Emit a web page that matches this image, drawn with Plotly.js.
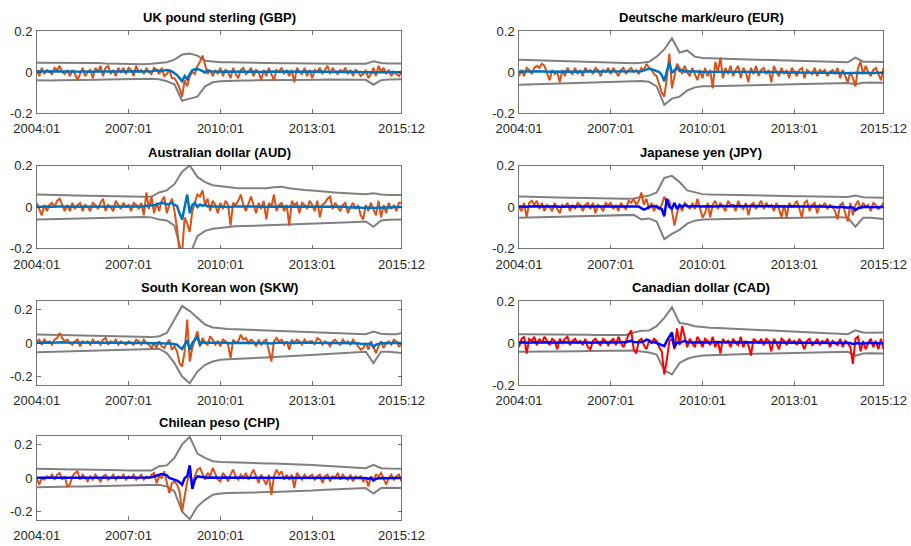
<!DOCTYPE html>
<html>
<head>
<meta charset="utf-8">
<script src="https://cdn.plot.ly/plotly-3.0.1.min.js"></script>
<style>html,body{margin:0;padding:0;background:#fff;}#chart{width:911px;height:546px;}</style>
</head>
<body>
<div id="chart"></div>
<script>
// ---------- categories / tick labels ----------
const startYear = 2004, endYear = 2015;
const tickLabels = ["2004:01", "2007:01", "2010:01", "2013:01", "2015:12"];
const panelTitles = ["UK pound sterling (GBP)", "Deutsche mark/euro (EUR)", "Australian dollar (AUD)", "Japanese yen (JPY)", "South Korean won (SKW)", "Canadian dollar (CAD)", "Chilean peso (CHP)"];
const yLimits = [0.2, 0.2, 0.2, 0.2, 0.25, 0.2, 0.25];
const yTicks = [-0.2, 0, 0.2];

// ---------- monthly series (orange / red) ----------
const gbpObs = [
0.01,-0.02,0.02,-0.01,0.01,0.00,-0.01,0.02,0.01,0.03,0.00,-0.01,
0.01,-0.02,0.01,-0.01,-0.04,-0.01,0.02,-0.02,0.00,0.01,-0.03,0.02,
0.00,0.03,-0.02,0.02,0.03,-0.01,0.01,-0.02,0.02,0.00,0.02,-0.01,
0.02,0.01,-0.02,0.03,0.00,0.01,-0.01,0.02,0.00,-0.01,0.02,0.01,
-0.01,0.02,-0.02,-0.01,0.01,-0.03,-0.03,-0.05,-0.08,-0.12,-0.04,-0.07,
-0.02,0.00,-0.01,0.03,0.05,0.08,0.03,-0.01,0.01,-0.02,0.01,-0.01,
0.02,-0.02,0.01,0.00,-0.03,0.02,-0.01,-0.03,0.01,0.02,-0.01,0.00,
0.02,-0.02,0.01,0.00,-0.04,0.01,-0.02,0.02,-0.01,-0.04,0.01,0.00,
0.02,-0.01,0.01,-0.02,0.01,-0.05,0.02,0.00,-0.01,0.02,-0.02,0.01,
-0.03,0.01,0.00,0.02,-0.01,0.01,0.03,-0.01,0.02,0.00,-0.01,0.01,
0.00,0.02,-0.01,0.01,-0.02,0.01,0.00,-0.02,-0.01,0.01,-0.03,-0.01,
0.02,-0.02,0.03,0.00,0.02,-0.01,0.01,-0.02,0.00,-0.01,-0.02,0.00];
const eurObs = [
-0.02,0.01,-0.02,0.02,0.01,-0.01,0.02,0.03,0.02,0.04,0.03,-0.01,
-0.04,0.01,-0.01,0.00,-0.05,0.01,-0.02,0.02,0.00,-0.01,0.02,-0.01,
0.01,-0.02,0.02,0.00,0.01,-0.01,0.02,0.01,-0.02,0.01,0.00,0.02,
-0.01,0.02,0.00,-0.02,0.01,0.02,-0.01,0.01,0.02,0.00,0.01,-0.01,
0.02,0.01,0.04,0.02,0.01,-0.01,-0.02,-0.06,-0.10,-0.12,-0.03,0.09,
-0.08,-0.02,0.04,0.02,-0.01,0.03,0.00,-0.02,0.02,-0.01,-0.04,0.01,
-0.03,0.02,-0.02,0.01,-0.08,0.05,0.00,0.07,-0.03,0.02,-0.01,0.03,
-0.02,0.01,0.03,-0.03,0.02,0.00,-0.05,0.02,-0.01,0.03,-0.02,0.01,
0.02,-0.01,0.01,-0.05,0.03,0.00,-0.02,0.02,-0.01,0.01,-0.03,0.02,
0.00,-0.02,0.01,0.02,-0.03,0.01,0.00,-0.01,0.02,-0.02,0.01,0.00,
0.01,-0.02,0.00,0.01,-0.01,0.02,-0.03,0.01,-0.02,-0.05,0.00,-0.03,
-0.07,0.02,0.05,-0.01,0.03,0.00,-0.02,0.01,0.02,-0.01,-0.04,0.02];
const audObs = [
0.02,-0.01,-0.04,0.01,-0.02,0.01,0.02,0.00,0.03,0.04,0.01,-0.02,
0.01,-0.02,0.02,-0.01,0.01,0.02,-0.02,0.01,0.00,-0.02,0.02,0.01,
-0.01,0.02,0.04,-0.02,0.01,0.00,-0.02,0.03,0.01,-0.01,0.02,0.00,
0.01,-0.02,0.02,0.01,-0.01,0.02,-0.04,0.07,-0.01,0.05,-0.03,0.02,
-0.02,0.03,0.05,-0.03,0.01,0.04,-0.02,-0.10,-0.22,-0.22,-0.05,-0.08,
-0.12,-0.02,0.02,0.06,0.05,0.08,0.01,0.04,-0.02,0.03,0.01,-0.03,
0.02,-0.01,0.03,0.01,-0.09,0.02,0.01,0.03,0.06,0.01,-0.02,0.02,
0.05,0.01,-0.03,0.02,-0.01,0.03,-0.06,0.02,0.00,0.06,-0.02,0.01,
0.02,-0.02,0.01,-0.09,0.03,0.01,0.02,-0.03,0.02,0.01,-0.01,0.03,
0.01,-0.02,0.03,-0.05,0.01,0.02,0.04,0.05,-0.01,0.02,0.00,-0.02,
0.01,0.02,-0.03,0.00,0.02,-0.01,0.01,-0.04,-0.06,0.01,-0.02,0.02,
-0.01,-0.04,0.03,-0.05,0.01,-0.03,0.02,-0.01,0.01,-0.02,0.02,0.02];
const jpyObs = [
0.00,-0.02,0.02,-0.05,0.02,0.03,0.01,0.03,-0.01,0.02,-0.02,0.01,
0.00,-0.02,0.02,-0.01,-0.03,0.01,0.00,0.02,-0.02,0.01,-0.01,0.02,
0.01,-0.02,0.01,0.02,-0.01,0.02,-0.03,0.01,0.00,-0.02,0.02,0.01,
0.02,-0.01,0.01,-0.02,0.02,0.00,-0.01,0.03,0.02,0.04,0.01,0.03,
0.07,0.01,0.04,-0.01,0.02,-0.02,0.01,-0.01,0.01,0.05,0.02,0.03,
-0.02,-0.09,-0.03,0.01,-0.02,0.02,0.01,-0.01,0.02,-0.01,0.04,0.00,
-0.05,-0.03,0.02,-0.05,0.01,0.03,-0.01,0.02,0.00,-0.02,0.03,0.01,
0.01,-0.02,0.03,0.00,-0.01,0.02,-0.04,0.01,0.02,-0.01,0.01,0.03,
-0.01,0.02,0.00,0.01,-0.02,0.02,-0.01,-0.05,0.01,-0.05,0.02,0.00,
0.01,0.03,-0.01,-0.05,0.02,0.03,-0.02,0.01,0.02,-0.03,0.01,0.00,
0.02,-0.01,0.01,0.00,-0.02,-0.06,0.01,0.02,-0.03,-0.07,0.02,-0.04,
0.01,0.03,-0.01,0.02,0.00,0.01,-0.02,0.02,0.01,-0.01,0.00,0.02];
const skwObs = [
0.01,0.02,-0.01,0.02,0.00,0.01,-0.01,0.02,0.03,0.06,0.03,0.01,
0.02,0.00,-0.01,0.01,0.02,-0.02,0.01,0.00,0.01,-0.01,0.02,0.00,
0.01,-0.01,0.02,0.03,-0.01,0.01,0.00,0.02,-0.01,0.01,0.00,-0.01,
0.01,0.00,-0.01,0.02,0.01,-0.01,0.02,0.00,-0.01,-0.03,0.00,-0.03,
0.01,-0.02,-0.03,0.00,0.02,-0.04,-0.02,-0.05,-0.12,-0.14,-0.05,0.14,
-0.11,-0.03,0.02,0.07,-0.02,0.03,0.00,-0.01,0.04,0.02,-0.01,0.01,
-0.02,0.02,0.01,-0.01,-0.09,0.02,0.00,0.01,0.05,0.02,0.03,0.00,
0.02,0.01,-0.02,0.02,-0.01,0.01,0.02,-0.05,-0.11,0.01,0.03,0.01,
0.02,-0.01,0.01,-0.04,0.02,0.00,0.02,0.01,-0.01,0.02,0.00,0.01,
0.01,-0.01,0.03,0.02,-0.01,0.01,0.00,-0.02,0.01,0.02,0.00,-0.01,
0.02,0.00,0.01,-0.01,0.02,0.00,-0.02,-0.04,-0.03,0.00,-0.04,0.01,
-0.02,-0.06,-0.02,0.01,-0.03,0.00,0.01,-0.01,0.02,0.01,-0.02,-0.01];
const cadObs = [
-0.02,0.02,0.03,-0.05,0.02,0.01,0.03,-0.01,0.02,0.00,0.03,0.01,
-0.01,0.02,0.01,-0.03,0.02,0.00,0.02,0.03,-0.01,0.01,0.02,0.00,
0.01,-0.01,0.02,-0.02,-0.03,0.01,0.02,0.00,-0.01,0.02,0.01,-0.01,
0.01,0.02,-0.01,0.03,0.00,-0.02,0.01,0.04,0.06,-0.03,-0.05,0.01,
0.02,-0.01,-0.03,0.01,0.00,0.02,0.01,-0.02,-0.04,-0.15,-0.08,0.01,
0.02,-0.03,0.07,-0.01,0.08,0.03,-0.02,0.02,0.00,-0.02,0.03,0.01,
-0.02,0.02,0.01,-0.01,0.03,-0.02,0.01,-0.05,0.02,0.00,0.01,-0.02,
0.02,0.00,-0.01,0.03,-0.02,0.01,-0.01,-0.06,0.02,0.01,0.00,0.02,
-0.01,0.02,0.01,-0.04,0.02,0.00,-0.03,0.02,0.01,-0.01,0.02,0.00,
0.01,-0.01,0.02,0.00,-0.03,0.01,0.02,-0.01,0.00,0.02,-0.01,0.01,
0.00,0.02,-0.02,0.01,0.00,-0.01,0.02,-0.02,0.01,0.00,-0.02,-0.10,
0.02,0.03,-0.04,0.01,-0.03,0.00,0.02,-0.02,0.01,-0.03,0.02,-0.03];
const chpObs = [
0.00,-0.04,0.00,-0.01,0.01,0.00,0.02,-0.01,0.02,0.03,-0.01,0.01,
-0.05,-0.04,0.01,0.03,0.04,-0.01,0.02,0.00,-0.02,0.01,-0.01,0.02,
0.00,-0.02,0.01,0.02,-0.01,0.00,0.02,-0.01,0.01,0.00,0.02,-0.01,
0.01,0.00,0.02,-0.01,0.00,0.02,-0.01,0.01,0.00,0.02,0.03,-0.03,
0.01,0.00,0.04,-0.02,-0.09,-0.03,-0.02,-0.04,-0.08,-0.20,-0.12,-0.02,
0.02,-0.03,0.01,0.05,0.06,0.02,-0.01,0.03,0.01,0.06,0.02,-0.01,
-0.02,0.03,0.01,-0.02,0.02,0.05,0.01,-0.01,0.02,0.00,0.03,-0.01,
0.02,0.05,0.01,-0.03,0.02,-0.01,-0.04,0.02,-0.10,0.01,0.05,0.02,
0.04,-0.01,0.02,-0.01,0.02,-0.06,0.03,0.01,-0.01,0.02,0.00,0.01,
0.02,-0.01,0.01,0.02,-0.03,0.01,0.02,-0.02,0.01,0.00,0.03,-0.01,
0.02,0.00,-0.01,0.02,-0.02,0.01,0.00,0.01,-0.02,0.00,-0.05,0.01,
-0.01,0.02,0.01,0.03,-0.01,-0.04,0.00,0.02,-0.01,0.01,0.02,-0.02];

// ---------- monthly estimated series (blue) ----------
const gbpEst = [
.004,.003,.004,.002,.003,.004,.002,.003,.004,.005,.003,.002,
.003,.002,.003,.002,.000,.001,.003,.002,.002,.003,.001,.003,
.002,.004,.002,.003,.004,.002,.003,.002,.003,.002,.003,.002,
.003,.002,.002,.004,.003,.003,.002,.004,.005,.004,.006,.008,
.006,.004,.008,.010,.007,.003,-.006,-.015,-.030,-.045,-.020,-.035,
-.010,.008,.013,.015,.010,.004,-.002,.008,.003,.002,.001,.002,
.002,.001,.002,.001,.002,.000,.001,.002,.001,.002,.001,.001,
.002,.001,.001,.002,.000,.001,.002,.001,.001,.002,.001,.000,
.001,.002,.001,.000,.001,.001,.002,.001,.000,.001,.002,.001,
.001,.000,.001,.002,.001,.000,.001,.001,.000,.001,.002,.001,
.000,.001,.001,.000,.001,.000,.001,.000,-.001,.000,-.002,-.001,
-.003,-.002,.000,.001,.000,-.001,.000,.001,.000,-.001,.000,.000];
const eurEst = [
.002,.001,.002,.003,.002,.001,.003,.004,.003,.004,.003,.002,
.001,.002,.001,.002,.000,.001,.002,.001,.002,.001,.002,.001,
.002,.001,.002,.002,.001,.002,.003,.002,.001,.002,.002,.003,
.002,.003,.002,.001,.002,.003,.002,.003,.004,.003,.004,.003,
.004,.008,.012,.016,.014,.010,.006,.000,-.015,-.045,.005,.045,
-.005,.010,.022,.005,.010,.002,.004,.002,.003,.002,.002,.001,
.001,.002,.001,.000,.001,.002,.001,.001,.000,.001,.001,.000,
.001,.000,.001,.001,.000,.001,.000,.000,.001,.000,.000,-.001,
.000,-.001,.000,-.001,.000,-.001,-.001,.000,-.001,-.002,-.001,-.001,
-.002,-.001,-.002,-.002,-.003,-.002,-.003,-.002,-.003,-.003,-.004,-.003,
-.003,-.004,-.004,-.003,-.004,-.005,-.004,-.005,-.005,-.006,-.005,-.006,
-.006,-.004,-.005,-.004,-.005,-.004,-.005,-.004,-.004,-.005,-.004,-.004];
const audEst = [
.001,.000,.001,.002,.001,.001,.002,.001,.002,.003,.002,.001,
.001,.002,.001,.001,.002,.001,.001,.000,.001,.001,.002,.001,
.001,.002,.003,.001,.002,.001,.001,.002,.001,.001,.002,.001,
.002,.001,.002,.001,.002,.003,.002,.006,.005,.010,.008,.012,
.015,.020,.018,.012,.015,.020,.010,.005,-.030,-.060,.000,.060,
-.030,.010,.020,.000,.012,.005,.010,.003,.005,.002,.003,.002,
.002,.001,.002,.001,.000,.002,.001,.002,.003,.002,.001,.002,
.003,.002,.001,.002,.001,.002,.000,.002,.001,.003,.001,.002,
.002,.001,.002,.000,.002,.001,.002,.001,.002,.001,.001,.002,
.001,.000,.002,.000,.001,.002,.002,.003,.001,.002,.001,.000,
.000,.001,-.002,-.001,.000,-.002,-.001,-.003,-.005,-.003,-.004,-.002,
-.003,-.005,-.002,-.004,-.002,-.003,-.001,-.002,.000,-.001,.000,.000];
const jpyEst = [
.003,.002,.004,.001,.003,.004,.003,.004,.002,.003,.002,.003,
.003,.002,.003,.002,.001,.002,.003,.003,.002,.003,.002,.003,
.003,.002,.003,.003,.002,.003,.001,.002,.002,.001,.003,.002,
.003,.002,.003,.002,.003,.002,.002,.003,.003,.004,.003,.002,
-.005,-.013,-.008,.000,.003,.005,.000,-.005,-.010,-.045,.040,.000,
-.008,.020,-.010,.010,.000,.010,.003,.002,.004,.003,.005,.003,
.004,.003,.005,.004,.003,.005,.004,.005,.004,.003,.005,.004,
.005,.004,.003,.005,.004,.005,.003,.004,.005,.004,.003,.004,
.004,.005,.004,.003,.004,.003,.004,.003,.004,.003,.004,.003,
.003,.004,.003,.002,.003,.004,.003,.002,.003,.002,.003,.002,
.002,.001,.002,.001,.000,-.002,.001,.000,-.002,-.004,.000,-.003,
-.015,-.006,-.002,.000,.001,.000,-.001,.001,.000,-.001,.000,.000];
const skwEst = [
.002,.003,.001,.002,.002,.003,.002,.003,.004,.006,.004,.003,
.003,.002,.001,.002,.003,.001,.002,.002,.002,.001,.002,.002,
.002,.001,.002,.003,.001,.002,.002,.003,.001,.002,.002,.001,
.002,.002,.001,.002,.002,.001,.002,.001,.000,-.002,.000,-.002,
.000,-.002,-.004,-.003,-.002,-.005,-.006,-.010,-.025,-.035,-.010,.016,
-.040,.000,.020,.035,-.010,.005,.002,.003,.004,.002,.001,.002,
.001,.002,.001,.000,-.002,.001,.001,.002,.003,.002,.002,.001,
.002,.001,.000,.001,.000,.001,.001,-.001,-.003,.000,.001,.001,
.002,.001,.001,.000,.001,.001,.002,.001,.001,.002,.001,.001,
.001,.000,.002,.002,.001,.001,.000,-.001,.000,.001,.000,.000,
.001,.000,.001,.000,.001,.000,-.002,-.004,-.005,-.003,-.006,-.002,
-.025,-.010,-.004,-.001,-.002,.000,.001,.000,.001,.001,.000,.000];
const cadEst = [
.002,.003,.003,.001,.003,.002,.003,.002,.003,.002,.003,.002,
.002,.003,.002,.001,.003,.002,.003,.003,.002,.002,.003,.002,
.002,.002,.003,.002,.001,.002,.003,.002,.002,.003,.002,.002,
.002,.003,.002,.003,.002,.002,.003,.008,.010,.005,.003,.004,
.005,.008,.016,.012,.003,.005,.000,-.005,-.010,-.015,.010,.030,
.050,-.020,.003,.000,.005,.010,.004,.003,.003,.002,.004,.003,
.003,.004,.003,.002,.004,.003,.003,.002,.003,.003,.002,.003,
.003,.002,.003,.003,.002,.003,.002,.001,.003,.002,.003,.002,
.002,.003,.002,.001,.002,.002,.001,.002,.002,.001,.002,.001,
.001,.001,.002,.001,.000,.001,.001,.000,.001,.001,.000,.001,
.000,.001,.000,.001,.000,.000,.001,.000,.000,.001,.000,-.005,
-.002,.000,-.002,.000,-.001,.000,.001,-.001,.000,-.001,.000,-.001];
const chpEst = [
.001,.000,.001,.001,.002,.001,.002,.001,.002,.002,.001,.001,
.000,-.001,.001,.002,.002,.001,.001,.001,.000,.001,.001,.001,
.001,.000,.001,.001,.001,.001,.002,.001,.001,.001,.002,.001,
.001,.001,.002,.001,.001,.002,.001,.002,.003,.005,.010,.015,
.018,.024,.020,.016,.000,-.005,-.008,-.015,-.025,-.040,.000,.010,
.075,-.065,-.010,.010,.008,.005,.003,.002,.003,.002,.003,.002,
.002,.003,.002,.001,.002,.003,.002,.001,.002,.002,.003,.002,
.002,.003,.002,.001,.002,.001,.000,.001,.000,.002,.003,.002,
.003,.002,.002,.001,.002,.000,.002,.001,.001,.002,.001,.001,
.001,.001,.001,.002,.000,.001,.002,.001,.001,.001,.002,.001,
.001,.001,.000,.001,.000,.001,.000,.001,.000,.000,-.004,.000,
-.015,-.004,-.001,.001,.000,-.002,.000,.001,.000,.000,.001,.000];

// ---------- quarterly confidence bands (upper / lower) ----------
const gbpUp = [.045,.045,.046,.045,.044,.045,.044,.043,.044,.042,.041,.040,.040,.039,.038,.040,.045,.048,.060,.085,.090,.080,.055,.050,.048,.047,.046,.046,.045,.045,.044,.044,.043,.043,.042,.042,.041,.041,.040,.040,.040,.039,.039,.040,.052,.044,.042,.042,.042];
const gbpLo = [-.040,-.042,-.041,-.040,-.040,-.041,-.040,-.039,-.038,-.037,-.036,-.036,-.035,-.034,-.033,-.033,-.035,-.045,-.060,-.140,-.130,-.120,-.070,-.050,-.045,-.043,-.042,-.042,-.041,-.041,-.040,-.040,-.040,-.039,-.039,-.038,-.038,-.038,-.037,-.037,-.037,-.036,-.036,-.038,-.062,-.040,-.036,-.035,-.035];
const eurUp = [.060,.059,.058,.056,.055,.053,.052,.050,.049,.048,.047,.046,.045,.044,.044,.043,.045,.050,.075,.110,.165,.095,.105,.075,.068,.066,.065,.064,.063,.062,.061,.060,.060,.059,.058,.057,.056,.055,.054,.053,.052,.051,.050,.048,.070,.050,.050,.049,.049];
const eurLo = [-.062,-.061,-.060,-.058,-.057,-.055,-.054,-.052,-.051,-.050,-.049,-.048,-.047,-.046,-.045,-.044,-.044,-.048,-.070,-.160,-.130,-.120,-.090,-.075,-.070,-.069,-.068,-.067,-.066,-.065,-.064,-.063,-.063,-.062,-.061,-.060,-.060,-.059,-.058,-.057,-.056,-.055,-.054,-.054,-.060,-.052,-.051,-.050,-.052];
const audUp = [.060,.060,.059,.058,.057,.056,.055,.054,.053,.052,.051,.050,.050,.049,.049,.050,.070,.080,.110,.170,.200,.145,.120,.105,.100,.095,.092,.090,.090,.092,.090,.095,.097,.090,.085,.082,.080,.076,.072,.070,.068,.066,.064,.062,.066,.060,.058,.058,.058];
const audLo = [-.060,-.059,-.058,-.057,-.056,-.055,-.054,-.053,-.052,-.051,-.050,-.050,-.049,-.048,-.048,-.050,-.060,-.065,-.090,-.230,-.230,-.140,-.115,-.105,-.100,-.095,-.093,-.092,-.090,-.089,-.088,-.087,-.086,-.085,-.084,-.083,-.081,-.080,-.078,-.076,-.075,-.073,-.071,-.070,-.095,-.065,-.062,-.060,-.060];
const jpyUp = [.050,.050,.049,.048,.047,.046,.045,.044,.043,.042,.041,.040,.040,.040,.040,.041,.048,.055,.070,.140,.150,.120,.080,.070,.062,.060,.059,.058,.057,.056,.055,.055,.054,.054,.053,.053,.052,.052,.051,.051,.050,.050,.049,.048,.055,.047,.046,.045,.045];
const jpyLo = [-.052,-.051,-.050,-.049,-.048,-.047,-.046,-.045,-.044,-.043,-.042,-.041,-.040,-.039,-.038,-.038,-.060,-.055,-.070,-.155,-.130,-.110,-.080,-.066,-.060,-.059,-.058,-.057,-.056,-.056,-.055,-.055,-.054,-.054,-.053,-.053,-.052,-.052,-.051,-.051,-.050,-.050,-.050,-.052,-.095,-.052,-.052,-.055,-.058];
const skwUp = [.050,.049,.048,.047,.046,.045,.044,.043,.042,.041,.040,.039,.038,.037,.036,.035,.040,.060,.140,.220,.190,.150,.110,.092,.086,.084,.082,.080,.079,.078,.077,.075,.073,.072,.070,.068,.066,.064,.062,.060,.058,.055,.053,.052,.068,.055,.052,.052,.060];
const skwLo = [-.055,-.054,-.053,-.052,-.051,-.050,-.049,-.048,-.047,-.046,-.045,-.044,-.042,-.040,-.037,-.035,-.035,-.060,-.120,-.200,-.240,-.170,-.130,-.110,-.100,-.097,-.094,-.092,-.090,-.088,-.086,-.084,-.082,-.080,-.077,-.074,-.071,-.068,-.065,-.062,-.060,-.058,-.055,-.052,-.120,-.052,-.052,-.055,-.060];
const cadUp = [.042,.042,.041,.041,.040,.040,.040,.040,.039,.039,.038,.038,.037,.036,.038,.050,.058,.060,.080,.120,.170,.095,.090,.080,.075,.073,.072,.070,.069,.068,.066,.064,.062,.060,.058,.056,.054,.052,.050,.048,.046,.045,.044,.042,.060,.050,.049,.048,.050];
const cadLo = [-.042,-.042,-.041,-.041,-.040,-.040,-.040,-.039,-.039,-.038,-.038,-.037,-.036,-.035,-.035,-.036,-.040,-.045,-.055,-.130,-.150,-.095,-.075,-.065,-.060,-.058,-.057,-.055,-.054,-.053,-.052,-.051,-.050,-.049,-.048,-.047,-.046,-.045,-.044,-.043,-.042,-.041,-.041,-.042,-.060,-.050,-.049,-.048,-.050];
const chpUp = [.055,.055,.054,.053,.052,.051,.050,.050,.049,.048,.047,.046,.045,.045,.044,.045,.070,.075,.120,.200,.245,.145,.120,.100,.095,.093,.091,.090,.089,.088,.087,.086,.085,.084,.082,.080,.077,.074,.071,.068,.065,.062,.060,.058,.078,.058,.056,.055,.055];
const chpLo = [-.055,-.055,-.054,-.053,-.052,-.051,-.050,-.049,-.048,-.047,-.046,-.045,-.045,-.044,-.044,-.045,-.040,-.050,-.080,-.200,-.245,-.170,-.130,-.100,-.092,-.090,-.088,-.087,-.086,-.085,-.084,-.083,-.082,-.081,-.080,-.078,-.075,-.072,-.070,-.068,-.066,-.064,-.062,-.060,-.092,-.060,-.058,-.058,-.060];

// ---------- build ----------
const months = [];
for (let y = startYear; y <= endYear; y++) for (let m = 1; m <= 12; m++) months.push(y + ":" + String(m).padStart(2, "0"));
const xIdx = months.map((_, i) => i + 1);
const bandIdx = xIdx.filter((_, i) => i % 3 === 0).concat([xIdx.length]);
const tickVals = tickLabels.map(l => months.indexOf(l) + 1);

const obsSeries = [gbpObs, eurObs, audObs, jpyObs, skwObs, cadObs, chpObs];
const estSeries = [gbpEst, eurEst, audEst, jpyEst, skwEst, cadEst, chpEst];
const upSeries = [gbpUp, eurUp, audUp, jpyUp, skwUp, cadUp, chpUp];
const loSeries = [gbpLo, eurLo, audLo, jpyLo, skwLo, cadLo, chpLo];

const ORANGE = "#D95319", RED = "#FF0000", MBLUE = "#0072BD", PBLUE = "#0000FF", GRAY = "#808080";
const obsColors = [ORANGE, ORANGE, ORANGE, ORANGE, ORANGE, RED, ORANGE];
const estColors = [MBLUE, MBLUE, MBLUE, PBLUE, MBLUE, PBLUE, PBLUE];

const W = 911, H = 546;
const colPx = [[36.7, 401.5], [519, 883.5]];
const rowPx = [[31, 113], [165.5, 248.5], [301, 385], [436, 520]];

const traces = [];
const layout = {
  width: W, height: H, margin: {l: 0, r: 0, t: 0, b: 0},
  paper_bgcolor: "#fff", plot_bgcolor: "#fff", showlegend: false,
  font: {family: "Liberation Sans, Arial, sans-serif", color: "#262626"},
  annotations: []
};

panelTitles.forEach((title, p) => {
  const row = Math.floor(p / 2), col = p % 2;
  const ax = p === 0 ? "" : String(p + 1);
  const xa = "x" + ax, ya = "y" + ax;
  const common = {
    showgrid: false, zeroline: false, showline: true, mirror: "ticks",
    linecolor: "#3a3a3a", linewidth: 0.7, ticks: "inside", ticklen: 4,
    tickcolor: "#3a3a3a", tickwidth: 0.7,
    tickfont: {family: "Liberation Sans, Arial, sans-serif", size: 13, color: "#262626"}
  };
  layout["xaxis" + ax] = Object.assign({}, common, {
    domain: [colPx[col][0] / W, colPx[col][1] / W], anchor: ya,
    range: [1, xIdx.length], tickvals: tickVals, ticktext: tickLabels,
    ticklabelstandoff: 4
  });
  layout["yaxis" + ax] = Object.assign({}, common, {
    domain: [1 - rowPx[row][1] / H, 1 - rowPx[row][0] / H], anchor: xa,
    range: [-yLimits[p], yLimits[p]], tickvals: yTicks, ticktext: ["-0.2", "0", "0.2"],
    ticklabelstandoff: 1
  });
  const bx = bandIdx;
  traces.push({x: bx, y: upSeries[p], xaxis: xa, yaxis: ya, mode: "lines", line: {color: GRAY, width: 2}});
  traces.push({x: bx, y: loSeries[p], xaxis: xa, yaxis: ya, mode: "lines", line: {color: GRAY, width: 2}});
  traces.push({x: xIdx, y: obsSeries[p], xaxis: xa, yaxis: ya, mode: "lines", line: {color: obsColors[p], width: 2}});
  traces.push({x: xIdx, y: estSeries[p], xaxis: xa, yaxis: ya, mode: "lines", line: {color: estColors[p], width: 2.5}});
  layout.annotations.push({
    text: "<b>" + title + "</b>", xref: "paper", yref: "paper",
    x: (colPx[col][0] + colPx[col][1]) / 2 / W, y: 1 - rowPx[row][0] / H,
    xanchor: "center", yanchor: "bottom", yshift: 4, showarrow: false,
    font: {family: "Liberation Sans, Arial, sans-serif", size: 13, color: "#000"}
  });
});

Plotly.newPlot("chart", traces, layout, {displayModeBar: false, staticPlot: true});
</script>
</body>
</html>
